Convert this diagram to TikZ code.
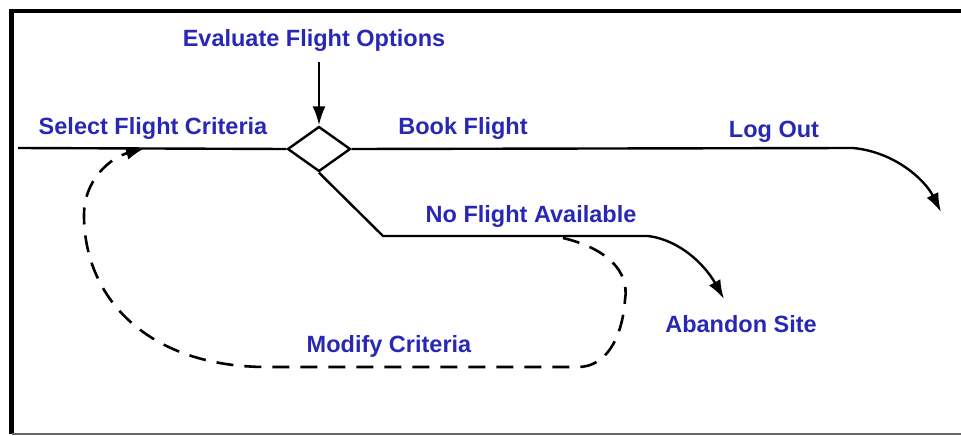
\documentclass[tikz,border=0pt]{standalone}
\usepackage{fontspec}
\setmainfont{Liberation Sans}
\usetikzlibrary{arrows.meta,shapes.geometric}
\definecolor{labelblue}{RGB}{40,40,180}
\tikzset{
  lbl/.style={font=\fontsize{23.5}{26}\selectfont\bfseries, text=labelblue, inner sep=0pt},
  flow/.style={line width=2.4pt},
  tip/.style={-{Latex[length=19pt,width=13pt]}},
  loop/.style={line width=2.6pt, dash pattern=on 17pt off 11pt}
}
\begin{document}
\begin{tikzpicture}[x=1pt,y=-1pt]
			%%%%% START %%%%%
			\useasboundingbox (0,0) rectangle (961,436);
			
			% frame
			\draw[line width=4.5pt] (961,11) -- (11.5,11) -- (11.5,434);
			\draw[line width=2pt, color=black!60] (11.5,434) -- (961,434);
			
			% decision point
			\node[draw, diamond, flow, minimum width=63pt, minimum height=45pt, inner sep=0pt] (choice) at (319,149) {};
			
			% labels
			\node[lbl] (evaluate) at (314,40) {Evaluate Flight Options};
			\node[lbl] (select) at (153,128) {Select Flight Criteria};
			\node[lbl] (book) at (463,128) {Book Flight};
			\node[lbl] (logout) at (774,132) {Log Out};
			\node[lbl] (noflight) at (531,216) {No Flight Available};
			\node[lbl] (abandon) at (741,324) {Abandon Site};
			\node[lbl] (modify) at (389,346) {Modify Criteria};
			
			% main path
			\coordinate (start) at (18,148);
			\coordinate (logend) at (853,148);
			\coordinate (logtip) at (941,212);
			\draw[flow] (start) -- (choice.west);
			\draw[flow, tip] (choice.north |- 0,62) -- (choice.north);
			\draw[flow, tip] (choice.east) -- (logend) .. controls (895,152) and (925,180) .. (logtip);
			
			% no flight branch
			\coordinate (bend) at (383,236);
			\coordinate (nfend) at (648,236);
			\coordinate (abtip) at (724,299);
			\draw[flow, tip] (choice.south) -- (bend) -- (nfend) .. controls (680,240) and (705,265) .. (abtip);
			
			% retry loop
			\coordinate (loopstart) at (563,238);
			\coordinate (loopright) at (625,300);
			\coordinate (loopcorner) at (578,367);
			\coordinate (loopleft) at (267,367);
			\coordinate (loopup) at (84,215);
			\coordinate (looptip) at (145,148);
			\draw[loop, tip] (loopstart) .. controls (605,248) and (630,270) .. (loopright)
			  .. controls (622,340) and (605,367) .. (loopcorner) -- (loopleft)
			  .. controls (150,367) and (84,300) .. (loopup)
			  .. controls (84,180) and (110,158) .. (looptip);
			
			%%%%% END %%%%%
		\end{tikzpicture}
\end{document}
